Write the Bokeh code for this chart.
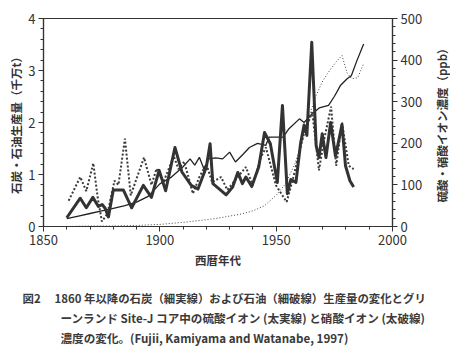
import math
from bokeh.plotting import figure
from bokeh.layouts import row
from bokeh.models import Range1d, LinearAxis, FixedTicker, Title
from bokeh.embed import file_html
from bokeh.resources import INLINE

# ---- data ----
coal_year = [1860, 1865, 1870, 1875, 1880, 1885, 1890, 1895, 1900, 1905, 1910, 1913, 1915, 1917,
             1919, 1921, 1924, 1927, 1930, 1932.5, 1936, 1938.5, 1942, 1945.5, 1947, 1950, 1953,
             1955.5, 1960, 1962, 1965.5, 1968.5, 1972.5, 1975, 1977.6, 1980.5, 1982.3, 1984.7, 1987.6]
coal_prod = [0.15, 0.20, 0.25, 0.30, 0.35, 0.40, 0.47, 0.58, 0.82, 0.95, 1.15, 1.30, 1.18, 1.33,
             1.10, 1.30, 1.32, 1.30, 1.43, 1.24, 1.40, 1.52, 1.60, 1.56, 1.72, 1.72, 1.72,
             1.88, 2.07, 2.00, 2.17, 2.28, 2.33, 2.50, 2.71, 2.84, 2.90, 3.19, 3.51]

oil_year = [1860, 1870, 1880, 1890, 1900, 1910, 1920, 1925, 1930, 1935, 1940, 1945, 1950, 1954,
            1958, 1961, 1964, 1967, 1970, 1973, 1975.5, 1978.3, 1980.5, 1982.5, 1985, 1987.6]
oil_prod = [0.0, 0.01, 0.01, 0.02, 0.04, 0.08, 0.13, 0.16, 0.20, 0.24, 0.30, 0.40, 0.60, 0.82,
            1.20, 1.60, 2.10, 2.50, 2.80, 3.00, 3.15, 3.29, 2.95, 2.84, 2.86, 3.13]

so4_year = [1860, 1865.8, 1868.4, 1871.2, 1873.6, 1875.2, 1876.5, 1877.9, 1880.0, 1884.3, 1887.9,
            1892.9, 1896.4, 1899.7, 1902.5, 1906.5, 1909.5, 1913.5, 1916.4, 1920.0, 1921.6, 1922.8,
            1925.6, 1928.5, 1931.3, 1933.5, 1935.5, 1937.0, 1939.5, 1942.5, 1945.0, 1947.5, 1950.5,
            1952.7, 1954.8, 1956.3, 1958.5, 1960.5, 1962.0, 1963.2, 1965.3, 1967.2, 1968.4, 1969.8,
            1971.4, 1973.4, 1975.5, 1978.3, 1979.8, 1981.7, 1983.3]
so4_ppb = [21, 68, 45, 70, 48, 53, 44, 23, 88, 88, 45, 99, 70, 135, 86, 190, 131, 99, 90, 143, 199,
           103, 90, 76, 95, 130, 103, 119, 96, 143, 226, 199, 106, 291, 79, 113, 106, 200, 244, 219,
           443, 194, 166, 223, 166, 250, 169, 245, 146, 110, 95]

no3_year = [1860.8, 1865.8, 1868.4, 1871.4, 1873.3, 1875.1, 1877.5, 1880.5, 1882.2, 1885.0, 1887.5,
            1893.2, 1896.4, 1898.6, 1901.5, 1906.0, 1908.0, 1910.5, 1914.2, 1917.0, 1920.0, 1922.5,
            1926.3, 1929.0, 1933.5, 1937.0, 1939.9, 1943.4, 1945.6, 1949.9, 1954.5, 1957.0, 1962.0,
            1965.5, 1968.4, 1970.5, 1973.6, 1975.8, 1978.3, 1981.2, 1983.3]
no3_ppb = [62, 119, 85, 152, 69, 12, 31, 110, 100, 211, 75, 166, 100, 139, 106, 169, 138, 156, 79,
           119, 150, 106, 119, 88, 119, 143, 99, 166, 190, 99, 59, 110, 225, 275, 135, 206, 288, 146,
           250, 146, 138]

x_ticks = [1850, 1900, 1950, 2000]
left_ticks = [0, 1, 2, 3, 4]
right_ticks = [0, 100, 200, 300, 400, 500]

FONT = "Noto Sans CJK JP"
INK = "#333333"

p = figure(width=430, height=364, x_range=Range1d(1850, 2000), y_range=Range1d(0, 4),
           output_backend="svg", toolbar_location=None,
           min_border_left=43, min_border_right=38, min_border_top=18, min_border_bottom=138)
p.extra_y_ranges = {"ppb": Range1d(0, 500)}
p.xgrid.visible = False
p.ygrid.visible = False
p.outline_line_color = INK
p.outline_line_width = 1.2
p.background_fill_color = "white"
p.border_fill_color = "white"

right_axis = LinearAxis(y_range_name="ppb")
p.add_layout(right_axis, "right")

p.xaxis.ticker = FixedTicker(ticks=x_ticks, minor_ticks=list(range(1850, 2001, 10)))
p.yaxis[0].ticker = FixedTicker(ticks=left_ticks, minor_ticks=[i * 0.2 for i in range(21)])
right_axis.ticker = FixedTicker(ticks=right_ticks, minor_ticks=list(range(0, 501, 20)))

p.xaxis.axis_label = "西暦年代"
p.yaxis[0].axis_label = "石炭・石油生産量（千万t）"

for ax in [p.xaxis[0], p.yaxis[0], right_axis]:
    ax.axis_line_color = INK
    ax.axis_line_width = 1.2
    ax.major_tick_line_color = INK
    ax.minor_tick_line_color = INK
    ax.major_tick_in = 0
    ax.major_tick_out = 5
    ax.minor_tick_in = 0
    ax.minor_tick_out = 3
    ax.major_label_text_font = FONT
    ax.major_label_text_font_size = "13px"
    ax.major_label_text_color = INK
    ax.major_label_standoff = 3
    ax.axis_label_text_font = FONT
    ax.axis_label_text_font_size = "11.5px"
    ax.axis_label_text_font_style = "bold"
    ax.axis_label_text_color = INK
    ax.axis_label_standoff = 4
p.yaxis[0].axis_label_standoff = 1

# lines
p.line(oil_year, oil_prod, line_width=1.0, line_color="#444444", line_dash="1 2")
p.line(coal_year, coal_prod, line_width=1.3, line_color="#222222")
p.line(no3_year, no3_ppb, y_range_name="ppb", line_width=2.0, line_color="#3a3a3a", line_dash="2 2")
p.line(so4_year, so4_ppb, y_range_name="ppb", line_width=3.0, line_color="#333333", line_join="round")

# spacer between the x axis and the caption
p.add_layout(Title(text=" ", text_font_size="1px", standoff=13), "below")

captions = [
    ("図2\u3000 1860 年以降の石炭（細実線）および石油（細破線）生産量の変化とグリ", -21, "11.4px"),
    ("ーンランド Site-J コア中の硫酸イオン (太実線) と硝酸イオン (太破線)", 17, "11.6px"),
    ("濃度の変化。(Fujii, Kamiyama and Watanabe, 1997)", 17, "11.6px"),
]
for text, off, fs in captions:
    t = Title(text=text, align="left", offset=off, standoff=1.5,
              text_font=FONT, text_font_size=fs, text_font_style="bold", text_color="#3a3a3a")
    p.add_layout(t, "below")

# narrow strip carrying the right-hand axis title (reads bottom-to-top like the left one)
q = figure(width=20, height=364, x_range=Range1d(0, 1), y_range=Range1d(0, 1),
           output_backend="svg", toolbar_location=None,
           min_border_left=0, min_border_right=0, min_border_top=18, min_border_bottom=138)
q.xaxis.visible = False
q.xgrid.visible = False
q.ygrid.visible = False
q.outline_line_color = None
q.background_fill_color = "white"
q.border_fill_color = "white"
qa = q.yaxis[0]
qa.ticker = FixedTicker(ticks=[])
qa.axis_line_color = None
qa.major_tick_line_color = None
qa.minor_tick_line_color = None
qa.major_label_text_font_size = "0px"
qa.axis_label = "硫酸・硝酸イオン濃度（ppb）"
qa.axis_label_text_font = FONT
qa.axis_label_text_font_size = "11.5px"
qa.axis_label_text_font_style = "bold"
qa.axis_label_text_color = INK
qa.axis_label_standoff = 0

layout = row(p, q, spacing=0)

open("out.html", "w").write(file_html(layout, INLINE))
